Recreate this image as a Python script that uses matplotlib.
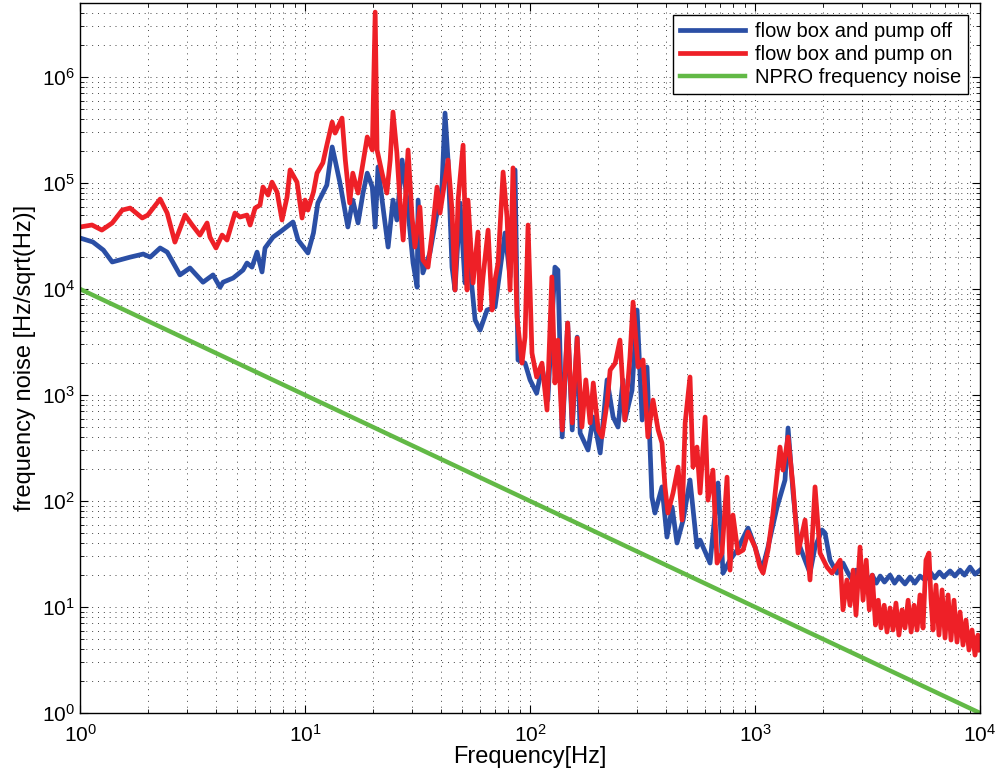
import numpy as np
import matplotlib
matplotlib.use("Agg")
import matplotlib.pyplot as plt
from matplotlib.ticker import FixedLocator, NullFormatter

plt.rcParams['font.family'] = ['Liberation Sans', 'DejaVu Sans']
plt.rcParams['mathtext.fontset'] = 'custom'
plt.rcParams['mathtext.rm'] = 'Liberation Sans'

# flow box and pump off
freq_off = [1.00, 1.14, 1.27, 1.39, 1.67, 1.91, 2.05, 2.27, 2.44, 2.78, 3.08, 3.52, 3.90,
            4.19, 4.32, 4.79, 5.30, 5.52, 5.81, 6.12, 6.44, 6.64, 7.21, 7.74, 8.84, 9.31,
            10.3, 10.9, 11.4, 12.5, 13.2, 13.6, 14.3, 15.5, 16.3, 17.2, 18.1, 18.9, 19.9,
            20.5, 21.1, 22.2, 23.4, 24.6, 25.6, 27.0, 28.4, 30.2, 31.5, 31.8, 33.4, 35.9,
            38.6, 40.6, 41.9, 43.2, 45.0, 46.4, 48.9, 51.4, 54.1, 57.0, 60.0, 64.4, 69.9,
            77.4, 81.5, 85.8, 88.4, 95.0, 100, 107, 113, 120, 129, 133, 139, 147, 154, 162,
            167, 181, 191, 205, 220, 234, 246, 259, 264, 284, 299, 315, 331, 348, 359, 386,
            406, 428, 450, 479, 514, 552, 570, 631, 685, 721, 774, 832, 931, 1000, 1074,
            1142, 1253, 1359, 1402, 1476, 1538, 1585, 1668, 1755, 1848, 1986, 2047, 2154,
            2312, 2460, 2590, 2710, 2810, 2929, 3050, 3180, 3320, 3460, 3600, 3760, 3981,
            4170, 4360, 4640, 4890, 5130, 5410, 5700, 6000, 6290, 6600, 6900, 7360, 7730,
            8150, 8530, 9030, 9500, 10000]
noise_off = [30300, 27800, 23300, 18000, 20000, 21400, 20000, 24400, 22300, 13600, 15800,
             11600, 13600, 10400, 11600, 12700, 15100, 17600, 16100, 22300, 14500, 24400,
             30900, 34500, 42900, 29000, 21900, 33800, 64800, 95700, 219000, 165000,
             100000, 38500, 69100, 42000, 80500, 124000, 91700, 38500, 142000, 59400,
             24900, 69100, 44800, 165000, 69100, 17600, 10400, 69100, 14200, 21900, 52100,
             91700, 457000, 165000, 16100, 9790, 64800, 11400, 16100, 5100, 4100, 6340,
             6760, 33800, 13000, 133000, 2140, 2000, 1390, 1040, 1840, 897, 16100, 15100,
             402, 4780, 468, 3520, 438, 303, 620, 284, 1390, 620, 499, 1390, 581, 1110,
             6340, 581, 1840, 109, 77.1, 136, 45.7, 87.7, 40.2, 66.2, 158, 36.8, 42.8,
             26.0, 148, 20.9, 27.7, 34.5, 55.6, 36.8, 22.3, 36.8, 87.7, 158, 489, 119,
             49.9, 36.8, 27.7, 20.9, 36.8, 53.3, 49.9, 27.7, 20.9, 26.0, 20.9, 18.0, 22.3,
             18.8, 20.9, 17.2, 20.0, 16.8, 19.6, 17.2, 20.0, 16.8, 19.2, 16.5, 19.2, 16.8,
             19.6, 18.0, 21.4, 18.8, 21.4, 19.2, 21.9, 19.6, 22.3, 20.0, 23.8, 20.4, 22.3]

# flow box and pump on
freq_on = [1.00, 1.13, 1.25, 1.39, 1.54, 1.67, 1.89, 2.00, 2.27, 2.44, 2.64, 2.93, 3.15,
           3.41, 3.67, 3.78, 4.02, 4.28, 4.50, 4.88, 5.14, 5.52, 5.70, 6.00, 6.31, 6.50,
           6.85, 7.13, 7.51, 7.90, 8.32, 8.58, 9.21, 9.70, 10.0, 10.3, 10.9, 11.3, 12.0,
           12.5, 13.2, 13.6, 14.0, 14.6, 15.1, 15.8, 16.3, 17.2, 18.1, 18.9, 19.9, 20.5,
           20.9, 22.0, 23.1, 23.9, 24.6, 25.6, 26.4, 27.3, 28.7, 29.9, 30.8, 32.4, 33.4,
           35.2, 36.7, 38.6, 39.8, 43.2, 45.0, 46.4, 47.9, 50.4, 52.5, 53.0, 55.8, 58.7,
           60.0, 61.8, 65.1, 67.8, 69.9, 72.1, 75.9, 79.0, 81.5, 84.0, 87.5, 92.1, 95.0,
           98.0, 102, 107, 113, 119, 125, 129, 133, 139, 147, 154, 162, 170, 177, 185, 191,
           201, 209, 220, 227, 239, 251, 264, 278, 287, 302, 318, 334, 352, 371, 386, 398,
           410, 432, 455, 474, 489, 514, 530, 552, 570, 600, 618, 650, 678, 713, 751, 774,
           798, 840, 885, 931, 1000, 1052, 1086, 1142, 1202, 1291, 1331, 1402, 1476, 1553,
           1668, 1755, 1848, 1945, 2089, 2198, 2390, 2460, 2560, 2643, 2730, 2810, 2929,
           3020, 3120, 3220, 3320, 3430, 3530, 3630, 3750, 3860, 3981, 4105, 4230, 4360,
           4500, 4640, 4790, 4940, 5090, 5250, 5410, 5580, 5750, 5930, 6050, 6180, 6370,
           6570, 6780, 6990, 7210, 7430, 7660, 7900, 8150, 8400, 8660, 8930, 9210, 9500,
           9790, 10000]
noise_on = [38500, 40200, 36000, 42000, 55600, 58100, 46800, 49900, 70600, 52100, 27700,
            49900, 40200, 32300, 42000, 30900, 24400, 32300, 29000, 52100, 47800, 49900,
            40200, 58100, 62000, 91700, 77100, 102000, 82200, 44800, 73800, 133000,
            102000, 46800, 69100, 55600, 82200, 124000, 155000, 228000, 376000, 296000,
            338000, 410000, 165000, 64800, 124000, 80500, 155000, 272000, 205000, 4100000,
            205000, 124000, 80500, 165000, 468000, 192000, 69100, 29000, 205000, 47800,
            24900, 59400, 18800, 16100, 33800, 91700, 52100, 165000, 55600, 9790, 69100,
            228000, 9790, 69100, 11400, 34500, 6340, 13000, 36000, 6340, 12200, 17600,
            127000, 47800, 9790, 139000, 5450, 2000, 3520, 40200, 2490, 1480, 2000, 722,
            13000, 1300, 3300, 468, 4780, 545, 3450, 499, 1390, 545, 1300, 468, 402, 841,
            1720, 2000, 3300, 581, 2280, 7540, 1840, 2140, 402, 897, 468, 352, 136, 77.1,
            119, 209, 66.2, 545, 1480, 209, 323, 119, 620, 102, 196, 26.0, 32.3, 168, 22.3,
            73.8, 32.3, 34.5, 51.0, 36.8, 23.8, 20.9, 34.5, 77.1, 323, 196, 402, 136, 32.3,
            66.2, 18.0, 136, 32.3, 23.8, 20.9, 27.7, 9.4, 18.0, 10.4, 22.3, 8.4, 36.8,
            11.6, 27.7, 9.4, 20.0, 6.77, 11.6, 6.34, 10.4, 5.81, 9.8, 6.07, 10.9, 5.44,
            9.4, 6.34, 11.6, 5.81, 10.4, 6.07, 13.0, 6.34, 27.7, 32.3, 12.2, 6.07, 16.1,
            5.44, 14.5, 5.10, 13.0, 4.88, 11.6, 4.67, 8.97, 4.38, 7.54, 3.93, 6.07, 3.52,
            5.44, 3.93]

# NPRO frequency noise
freq_npro = [1, 10000]
noise_npro = [10000, 1]

x_major = [1e0, 1e1, 1e2, 1e3, 1e4]
y_major = [1e0, 1e1, 1e2, 1e3, 1e4, 1e5, 1e6]

fig = plt.figure(figsize=(9.98, 7.82), dpi=100)
ax = fig.add_axes([0.0802, 0.0882, 0.9018, 0.908])

ax.loglog(freq_off, noise_off, color='#2B4FA5', lw=3.4, label='flow box and pump off',
          solid_joinstyle='round')
ax.loglog(freq_on, noise_on, color='#EE2027', lw=3.4, label='flow box and pump on',
          solid_joinstyle='round')
ax.loglog(freq_npro, noise_npro, color='#62B946', lw=3.2, label='NPRO frequency noise')

ax.set_xlim(1, 1e4)
ax.set_ylim(1, 5e6)

# minor ticks 2..9 within each decade, only inside the limits
x_minor = [m * d for d in x_major[:-1] for m in range(2, 10)]
y_minor = [m * d for d in y_major for m in range(2, 10) if m * d <= 5e6]

ax.xaxis.set_major_locator(FixedLocator(x_major))
ax.yaxis.set_major_locator(FixedLocator(y_major))
ax.xaxis.set_minor_locator(FixedLocator(x_minor))
ax.yaxis.set_minor_locator(FixedLocator(y_minor))
ax.xaxis.set_minor_formatter(NullFormatter())
ax.yaxis.set_minor_formatter(NullFormatter())

ax.grid(True, which='both', color='#444444', linestyle=(0, (1, 5)), linewidth=0.7)
ax.tick_params(which='both', direction='in', top=True, right=True, labelsize=15)
ax.tick_params(which='major', length=6)
ax.tick_params(which='minor', length=3)
ax.tick_params(axis='x', pad=8)

ax.set_xlabel('Frequency[Hz]', fontsize=17, labelpad=0)
ax.set_ylabel('frequency noise [Hz/sqrt(Hz)]', fontsize=17, labelpad=4)

leg = ax.legend(loc='upper right', fontsize=14.5, handlelength=3.2, fancybox=False,
                framealpha=1, edgecolor='black', borderaxespad=0.6, labelspacing=0.2,
                borderpad=0.35, handletextpad=0.5)
leg.get_frame().set_linewidth(1.0)

for sp in ax.spines.values():
    sp.set_linewidth(1.0)

fig.savefig('out.png', dpi=100)
